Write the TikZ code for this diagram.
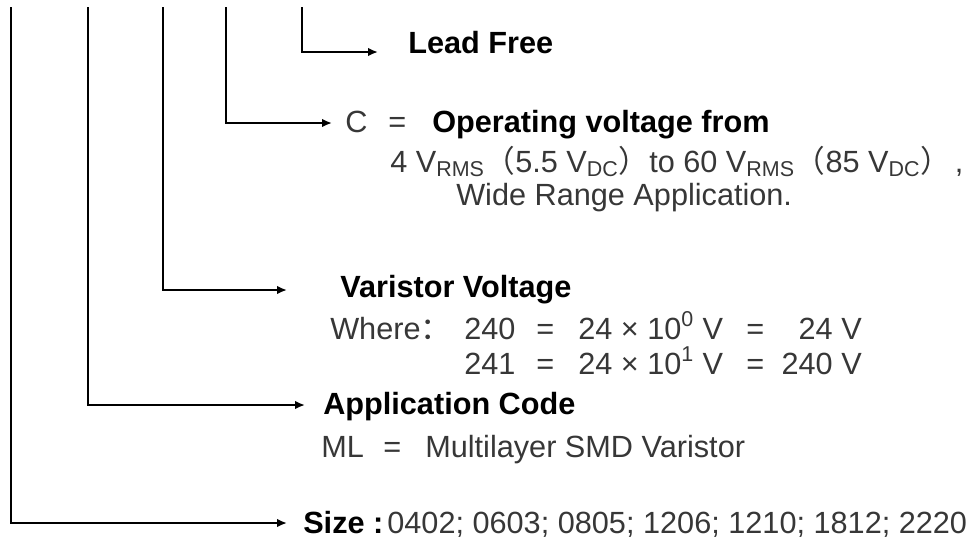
\documentclass[tikz,border=0pt]{standalone}
\usepackage{fontspec}
\setmainfont{Liberation Sans}
\newfontfamily\cjk{Noto Sans CJK SC}
\usetikzlibrary{arrows.meta}
\definecolor{txtgray}{RGB}{55,55,55}
\newcommand{\fw}[1]{{\cjk #1}}
\begin{document}
\begin{tikzpicture}[x=0.75pt,y=-0.75pt,
  conn/.style={line width=1.9pt,-{Latex[length=7.5pt,width=6.5pt]}},
  txt/.style={inner sep=0pt,anchor=base west,text=txtgray,font=\fontsize{23}{27}\selectfont},
  btxt/.style={txt,text=black,font=\fontsize{23}{27}\selectfont\bfseries}]
\useasboundingbox (0,0) rectangle (973,544);
% tops of the vertical lines
\coordinate (topSize) at (11,7);
\coordinate (topApp) at (88,7);
\coordinate (topVar) at (163,7);
\coordinate (topC) at (226,7);
\coordinate (topLead) at (302,7);
% arrow tips
\coordinate (tipLead) at (378,52);
\coordinate (tipC) at (332,123);
\coordinate (tipVar) at (287,290);
\coordinate (tipApp) at (305,405);
\coordinate (tipSize) at (287,523);
% texts
\node[btxt] (lead) at (408,53) {Lead Free};
\node[txt] (cC) at (345,132) {C};
\node[txt] (cEq) at (388,132) {=};
\node[btxt] (op) at (432,132) {Operating voltage from};
\node[txt] (l2) at (390,172) {4 V\textsubscript{RMS}\fw{（}5.5 V\textsubscript{DC}\fw{）}to 60 V\textsubscript{RMS}\fw{（}85 V\textsubscript{DC}\fw{）}\kern3pt,};
\node[txt] (l3) at (456,205) {Wide Range Application.};
\node[btxt] (var) at (340,297) {Varistor Voltage};
\node[txt] (where) at (330,339) {Where\fw{：}};
\node[txt] (r1a) at (464,339) {240};
\node[txt] (r1eq) at (536,339) {=};
\node[txt] (r1b) at (578,339) {24 × 10\textsuperscript{0} V};
\node[txt] (r1eqb) at (746,339) {=};
\node[txt,anchor=base east] (r1c) at (862,339) {24 V};
\node[txt] (r2a) at (464,374) {241};
\node[txt] (r2eq) at (536,374) {=};
\node[txt] (r2b) at (578,374) {24 × 10\textsuperscript{1} V};
\node[txt] (r2eqb) at (746,374) {=};
\node[txt,anchor=base east] (r2c) at (862,374) {240 V};
\node[btxt] (app) at (323,414) {Application Code};
\node[txt] (ml) at (321,457) {ML};
\node[txt] (mlEq) at (383,457) {=};
\node[txt] (mlText) at (425,457) {Multilayer SMD Varistor};
\node[txt] (size) at (303,533) {\textbf{\color{black}Size :}\kern3pt{}0402; 0603; 0805; 1206; 1210; 1812; 2220};
% connectors
\draw[conn] (topLead) |- (tipLead);
\draw[conn] (topC) |- (tipC);
\draw[conn] (topVar) |- (tipVar);
\draw[conn] (topApp) |- (tipApp);
\draw[conn] (topSize) |- (tipSize);
\end{tikzpicture}
\end{document}
